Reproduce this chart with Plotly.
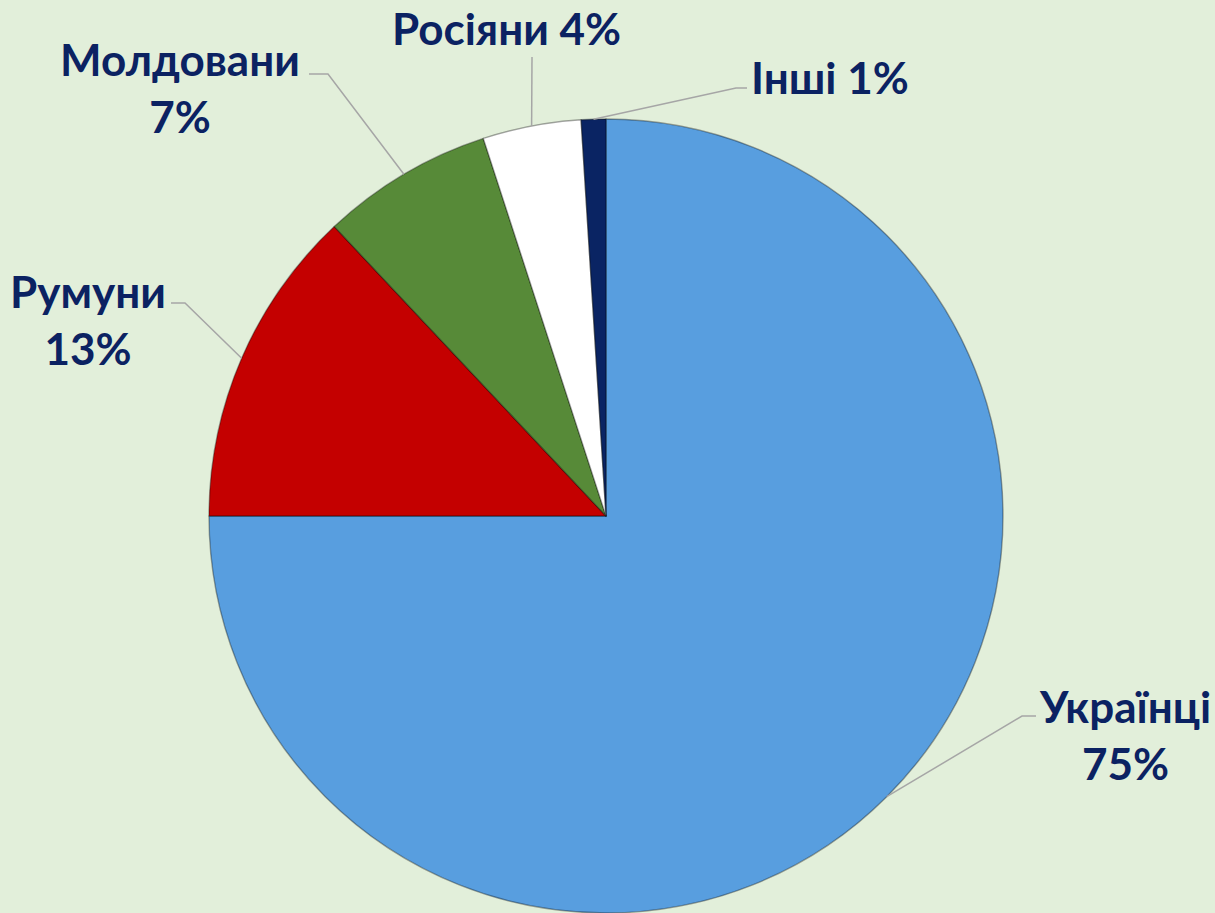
import math
import plotly.graph_objects as go

# ---- data ----
labels = ["Українці", "Румуни", "Молдовани", "Росіяни", "Інші"]
values = [75, 13, 7, 4, 1]
colors = ["#589EDF", "#C40000", "#578A38", "#FFFFFF", "#0A2463"]

# ---- layout constants (pixels) ----
W, H = 1215, 913
CX, CY, R = 606, 516, 397
BG = "#E2EFDA"
TEXT_COLOR = "#0B2262"
LINE_COLOR = "#A6A6A6"

# label block centres, leader elbow points and line ends, in pixels
two_line = [True, True, True, False, False]
label_pos = [(1125, 734), (88, 320), (180, 88), (506, 28), (830, 77)]
elbow_pos = [(1022, 716), (185, 303), (328, 74), (532, 57), (736, 88)]
end_pos = [(1036, 716), (171, 303), (309, 74), (532, 57), (747, 88)]


def px(x):
    return x / W


def py(y):
    return 1 - y / H


fig = go.Figure()
fig.add_trace(go.Pie(
    labels=labels,
    values=values,
    sort=False,
    direction="clockwise",
    rotation=0,
    marker=dict(colors=colors, line=dict(color="rgba(0,0,0,0.35)", width=1.4)),
    textinfo="none",
    hoverinfo="label+percent",
    domain=dict(x=[px(CX - R), px(CX + R)], y=[py(CY + R), py(CY - R)]),
    showlegend=False,
))

total = sum(values)
shapes = []
annotations = []
cum = 0
for i, (lab, v) in enumerate(zip(labels, values)):
    mid = (cum + v / 2) / total * 2 * math.pi
    cum += v
    sx = CX + R * math.sin(mid)
    sy = CY - R * math.cos(mid)
    ex, ey = elbow_pos[i]
    tx, ty = end_pos[i]
    shapes.append(dict(
        type="path", xref="paper", yref="paper",
        path=f"M {px(sx)},{py(sy)} L {px(ex)},{py(ey)} L {px(tx)},{py(ty)}",
        line=dict(color=LINE_COLOR, width=1.5),
    ))
    pct = round(v / total * 100)
    txt = f"{lab}<br>{pct}%" if two_line[i] else f"{lab} {pct}%"
    lx, ly = label_pos[i]
    annotations.append(dict(
        x=px(lx), y=py(ly), xref="paper", yref="paper",
        text=txt, showarrow=False, xanchor="center", yanchor="middle",
        align="center",
        font=dict(family="Lato, Roboto, sans-serif", size=44, color=TEXT_COLOR, weight="bold"),
    ))

fig.update_layout(
    width=W, height=H,
    margin=dict(l=0, r=0, t=0, b=0),
    paper_bgcolor=BG, plot_bgcolor=BG,
    shapes=shapes,
    annotations=annotations,
)

fig.write_html("out.html")
